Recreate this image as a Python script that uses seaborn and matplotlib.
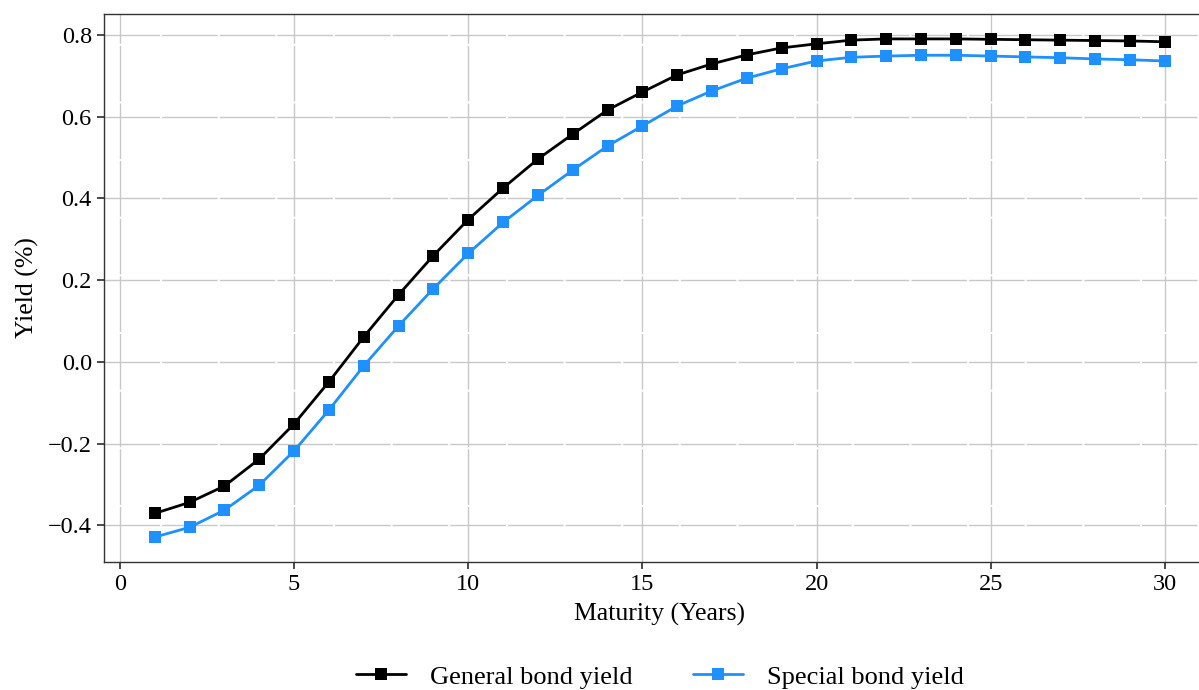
import matplotlib
matplotlib.use("Agg")
import matplotlib.pyplot as plt
import numpy as np
import pandas as pd
import seaborn as sns

# maturities (years) and yields (%)
maturity = list(range(1, 31))
general_yield = [-0.371, -0.344, -0.304, -0.238, -0.152, -0.049, 0.061, 0.164, 0.260, 0.348,
                 0.425, 0.496, 0.557, 0.616, 0.660, 0.702, 0.729, 0.751, 0.768, 0.778,
                 0.787, 0.790, 0.790, 0.790, 0.789, 0.788, 0.787, 0.786, 0.785, 0.783]
special_yield = [-0.429, -0.405, -0.363, -0.302, -0.218, -0.118, -0.010, 0.088, 0.179, 0.265,
                 0.341, 0.407, 0.469, 0.528, 0.577, 0.626, 0.663, 0.694, 0.717, 0.736,
                 0.745, 0.748, 0.750, 0.750, 0.748, 0.746, 0.744, 0.741, 0.739, 0.736]
series_names = ["General bond yield", "Special bond yield"]
colors = ["black", "#1E90FF"]

df = pd.concat([
    pd.DataFrame({"Maturity": maturity, "Yield": general_yield, "Series": series_names[0]}),
    pd.DataFrame({"Maturity": maturity, "Yield": special_yield, "Series": series_names[1]}),
])

sns.set_theme(style="whitegrid")
plt.rcParams["font.family"] = ["Liberation Serif", "DejaVu Serif"]
plt.rcParams.update({
    "axes.edgecolor": "#333333",
    "axes.linewidth": 1.0,
    "grid.color": "#c8c8c8",
    "grid.linewidth": 1.0,
    "xtick.bottom": True,
    "ytick.left": True,
    "xtick.major.size": 5,
    "ytick.major.size": 5,
    "xtick.color": "#333333",
    "ytick.color": "#333333",
    "xtick.labelcolor": "black",
    "ytick.labelcolor": "black",
    "text.color": "black",
    "axes.labelcolor": "black",
})

fig = plt.figure(figsize=(11.99, 6.9), dpi=100)
ax = fig.add_axes([104.3 / 1199, 1 - 562 / 690, 1111 / 1199, 548 / 690])

sns.lineplot(data=df, x="Maturity", y="Yield", hue="Series", style="Series",
             palette=colors, markers=["s", "s"], dashes=False, linewidth=2,
             markersize=8, markeredgewidth=0, ax=ax)

ax.grid(True, linestyle=(0, (40, 1.5)))
ax.set_xticks([0, 5, 10, 15, 20, 25, 30])
ax.set_yticks([-0.4, -0.2, 0.0, 0.2, 0.4, 0.6, 0.8])
ax.tick_params(labelsize=17.5, pad=4)
ax.set_xlabel("Maturity (Years)", fontsize=18.5, labelpad=5)
ax.set_ylabel("Yield (%)", fontsize=18.5, labelpad=6)

ax.legend(loc="upper center", bbox_to_anchor=(0.5, -0.145), ncol=2, frameon=False,
          fontsize=19, handlelength=1.9, handletextpad=0.9, columnspacing=2.3)

fig.savefig("out.png", dpi=100)
